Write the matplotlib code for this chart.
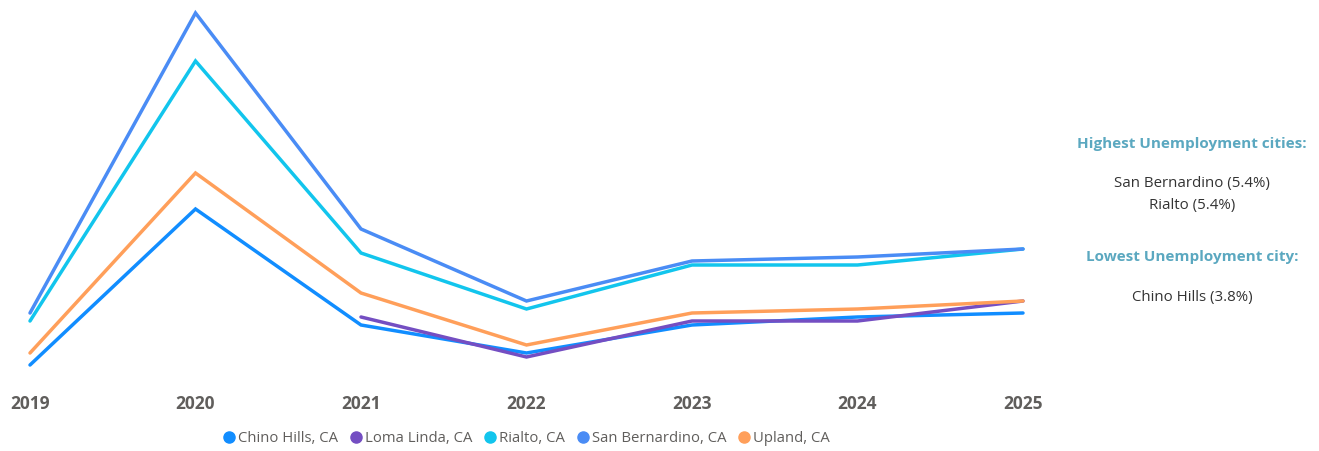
import numpy as np
import matplotlib.pyplot as plt

# Unemployment rate (%) by city, 2019-2025
years = ["2019", "2020", "2021", "2022", "2023", "2024", "2025"]
chino_hills = [2.5, 6.4, 3.5, 2.8, 3.5, 3.7, 3.8]
loma_linda = [np.nan, np.nan, 3.7, 2.7, 3.6, 3.6, 4.1]
rialto = [3.6, 10.1, 5.3, 3.9, 5.0, 5.0, 5.4]
san_bernardino = [3.8, 11.3, 5.9, 4.1, 5.1, 5.2, 5.4]
upland = [2.8, 7.3, 4.3, 3.0, 3.8, 3.9, 4.1]

series = [
    ("Chino Hills, CA", chino_hills, "#118DFF"),
    ("Loma Linda, CA", loma_linda, "#744EC2"),
    ("Rialto, CA", rialto, "#12C5ED"),
    ("San Bernardino, CA", san_bernardino, "#4A8CF5"),
    ("Upland, CA", upland, "#FF9F5A"),
]

W, H = 1319, 451
fig = plt.figure(figsize=(W / 100, H / 100), dpi=100)
ax = fig.add_axes([30 / W, (H - 380) / H, (1023 - 30) / W, 375 / H])

x = np.arange(len(years))
for name, vals, color in series:
    ax.plot(x, vals, color=color, lw=2.5, solid_capstyle="round",
            solid_joinstyle="miter", clip_on=False, label=name)

ax.set_xlim(0, len(years) - 1)
ax.set_ylim(2.125, 11.5)
ax.set_yticks([])
ax.set_xticks(x)
ax.set_xticklabels(years, fontsize=12.5, fontweight="bold", color="#605E5C",
                   family="Open Sans")
ax.tick_params(axis="x", length=0, pad=11)
for s in ax.spines.values():
    s.set_visible(False)

handles = [plt.Line2D([], [], marker="o", ls="none", color=c, markersize=8)
           for _, _, c in series]
fig.legend(handles, [n for n, _, _ in series], loc="center",
           bbox_to_anchor=(525 / W, 1 - 439 / H), ncol=5, frameon=False,
           handletextpad=0.0, columnspacing=0.6, handlelength=1.2,
           prop={"family": "Open Sans", "size": 10.7}, labelcolor="#605E5C")

# Summary panel on the right
cx = 1192 / W
head = dict(ha="center", va="center", fontsize=11, fontweight="bold",
            color="#5BA8C0", family="Open Sans")
body = dict(ha="center", va="center", fontsize=10.8, color="#333333",
            family="Open Sans")
fig.text(cx, 1 - 144 / H, "Highest Unemployment cities:", **head)
fig.text(cx, 1 - 184 / H, "San Bernardino (5.4%)", **body)
fig.text(cx, 1 - 206 / H, "Rialto (5.4%)", **body)
fig.text(cx, 1 - 257 / H, "Lowest Unemployment city:", **head)
fig.text(cx, 1 - 297 / H, "Chino Hills (3.8%)", **body)

fig.savefig("out.png", dpi=100)
